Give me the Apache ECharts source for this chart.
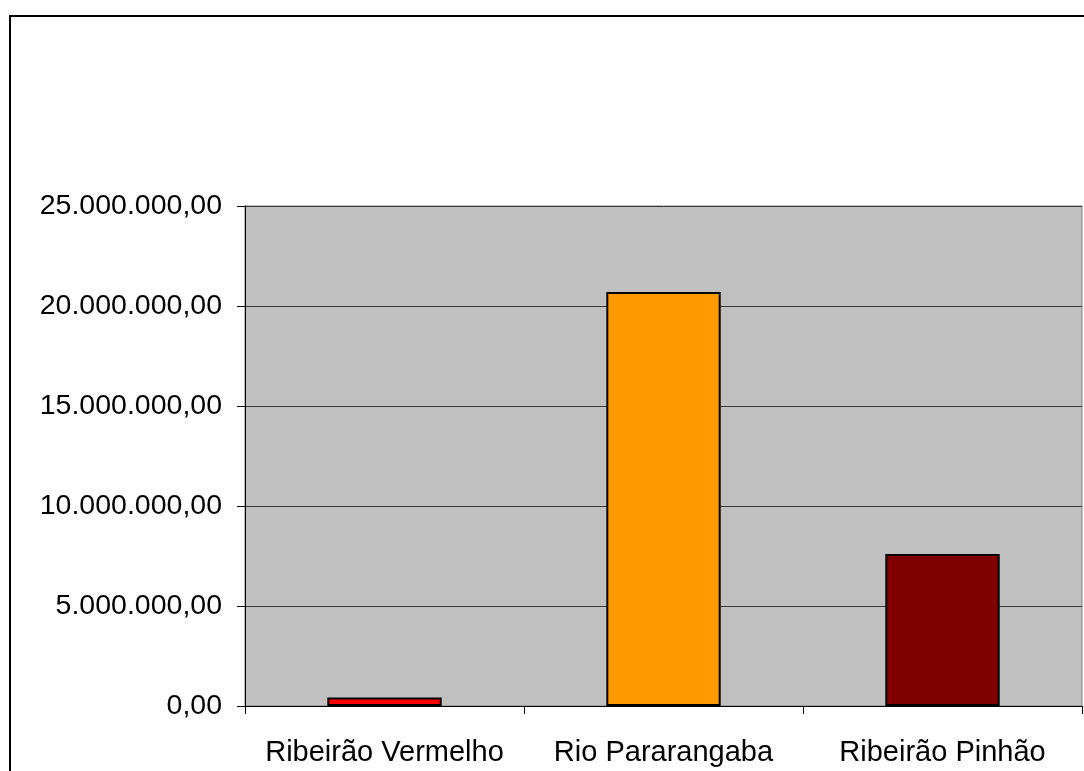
<!DOCTYPE html>
<html>
<head>
<meta charset="utf-8">
<script src="https://cdn.jsdelivr.net/npm/echarts@6/dist/echarts.min.js"></script>
<style>
  html, body { margin: 0; padding: 0; background: #ffffff; }
  #chart { width: 1084px; height: 771px; }
</style>
</head>
<body>
<div id="chart"></div>
<script>
// Rivers and their totals
const categories = ['Ribeirão Vermelho', 'Rio Pararangaba', 'Ribeirão Pinhão'];
const values = [430000, 20700000, 7600000];
const barColors = ['#FF0000', '#FF9900', '#800000'];

// Y axis range
const yMin = 0;
const yMax = 25000000;
const yStep = 5000000;

function formatBR(v) {
  const parts = v.toFixed(2).split('.');
  const intPart = parts[0].replace(/\B(?=(\d{3})+(?!\d))/g, '.');
  return intPart + ',' + parts[1];
}

const chart = echarts.init(document.getElementById('chart'), null, { renderer: 'canvas' });

const fontFamily = '"Liberation Sans", Arial, sans-serif';

chart.setOption({
  animation: false,
  backgroundColor: '#ffffff',
  graphic: [
    {
      type: 'rect',
      z: 100,
      shape: { x: 10, y: 16, width: 1300, height: 1000 },
      style: { fill: 'none', stroke: '#000000', lineWidth: 2 }
    }
  ],
  grid: {
    left: 245,
    top: 206,
    right: 2,
    bottom: 65,
    show: true,
    backgroundColor: '#C0C0C0',
    borderColor: '#808080',
    borderWidth: 1
  },
  xAxis: {
    type: 'category',
    data: categories,
    axisLine: { show: true, lineStyle: { color: '#000000', width: 1 } },
    axisTick: { show: true, length: 8, alignWithLabel: false, lineStyle: { color: '#000000' } },
    axisLabel: {
      color: '#000000',
      fontFamily: fontFamily,
      fontSize: 29,
      margin: 32,
      interval: 0
    },
    splitLine: { show: false }
  },
  yAxis: {
    type: 'value',
    min: yMin,
    max: yMax,
    interval: yStep,
    axisLine: { show: true, lineStyle: { color: '#000000', width: 1 } },
    axisTick: { show: true, length: 8, lineStyle: { color: '#000000' } },
    axisLabel: {
      color: '#000000',
      fontFamily: fontFamily,
      fontSize: 28.5,
      margin: 23,
      formatter: formatBR
    },
    splitLine: { show: true, lineStyle: { color: '#3a3a3a', width: 1 } }
  },
  series: [
    {
      type: 'bar',
      data: values.map((v, i) => ({
        value: v,
        itemStyle: { color: barColors[i] }
      })),
      barWidth: '41%',
      itemStyle: { borderColor: '#000000', borderWidth: 2 }
    }
  ]
});
</script>
</body>
</html>
